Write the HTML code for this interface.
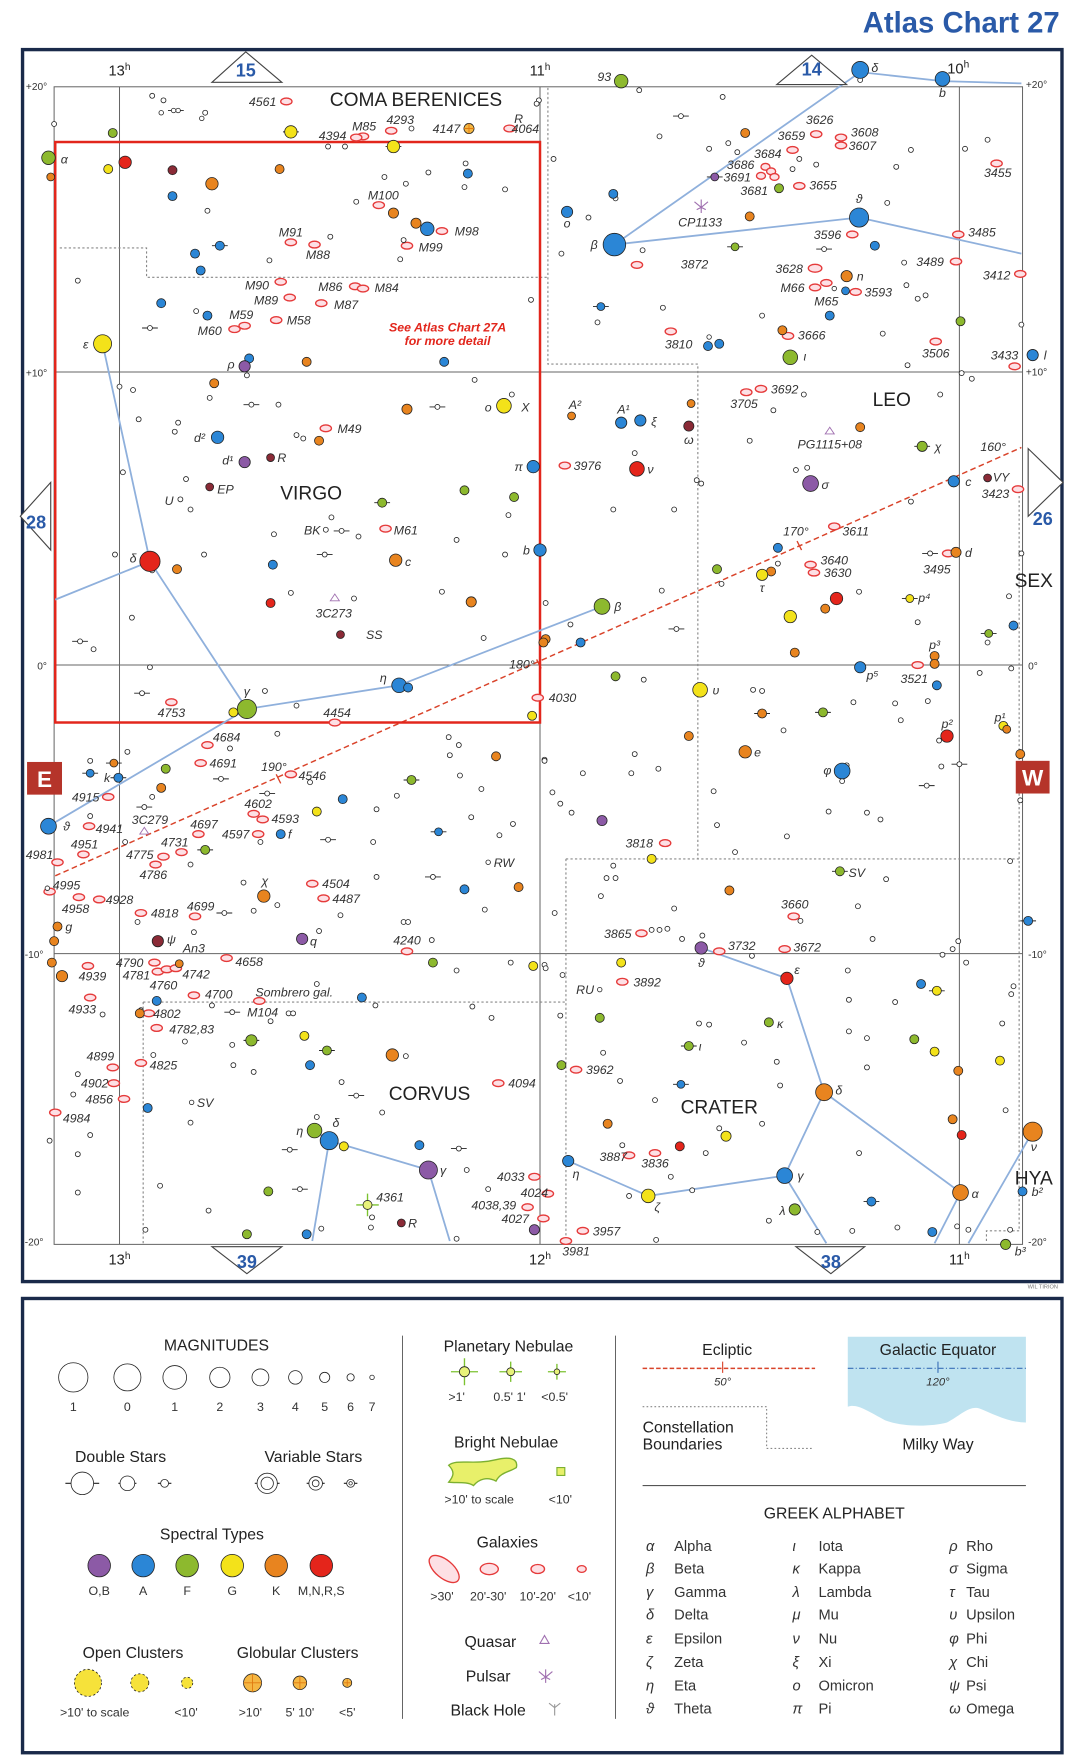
<!DOCTYPE html>
<html><head><meta charset="utf-8"><style>
html,body{margin:0;padding:0;background:#fff}
svg{display:block}
text{font-family:"Liberation Sans",sans-serif;fill:#333}
.l{font-size:11px;font-style:italic;text-anchor:middle}
.c{font-size:17px;text-anchor:middle;fill:#222}
.ax{font-size:13px;text-anchor:middle;fill:#222}
.dg{font-size:9px;fill:#333}
circle{stroke:#222;stroke-width:.7}
.w{fill:#fff}.b{fill:#2b86d6}.o{fill:#e8841f}.g{fill:#8db92e}.y{fill:#f3e21a}.r{fill:#e4251b}.p{fill:#8c5aa6}.d{fill:#8a2a36}
.gx{fill:#fde0e5;stroke:#e53a3a;stroke-width:1.2}
.cl{stroke:#8fb0dc;stroke-width:1.6;fill:none}
.bd{stroke:#888;stroke-width:1;stroke-dasharray:2 2;fill:none}
.gr{stroke:#666;stroke-width:.9;fill:none}
.bar{stroke:#222;stroke-width:.8}
.lg{font-size:14px;text-anchor:middle;fill:#222}
.ls{font-size:11px;text-anchor:middle;fill:#222}
.gk{font-size:13px;fill:#222}
.gs{font-size:13px;font-style:italic;fill:#222}
</style></head><body>
<svg width="1071" height="1764" viewBox="0 0 950 1565" preserveAspectRatio="none" xmlns="http://www.w3.org/2000/svg">
<rect x="0" y="0" width="950" height="1565" fill="#fff"/>
<text x="940" y="29" style="font-size:26px;font-weight:bold;fill:#2a5aa8;text-anchor:end">Atlas Chart 27</text>
<!-- frame -->
<rect x="20" y="44" width="922" height="1093" fill="none" stroke="#1a2a4a" stroke-width="3"/>
<rect x="48" y="77" width="859" height="1027" class="gr"/>
<path class="gr" d="M48 330H907M48 590H907M48 846H907M106 77V1104M479 77V1104M851 77V1104"/>
<!-- boundaries -->
<path class="bd" d="M53 220H130V246H487M486 78V323H619V762M502 762H904M502 762V1103M127 889H502M127 889V1103M904 440V1092H875V1103"/>
<!-- ecliptic -->
<path d="M49 777L906 397" stroke="#d9432a" stroke-width="1.3" stroke-dasharray="5 3" fill="none"/>
<path d="M245 687l4 8M476 585l4 8M707 480l4 8" stroke="#d9432a" stroke-width="1.2"/>
<text class="l" x="243" y="684">190°</text><text class="l" x="463" y="593">180°</text><text class="l" x="706" y="475">170°</text><text class="l" x="881" y="400">160°</text>
<!-- red box -->
<rect x="49" y="126" width="430" height="515" fill="none" stroke="#e2261c" stroke-width="2.2"/>
<!-- constellation lines -->
<path class="cl" d="M91 305L133 498L219 629L354 608L534 538M133 498L49 532M219 629L43 733M545 217L763 64L836 72L906 74M545 217L762 193L906 225M622 841L698 868L731 969L696 1043L575 1061L504 1030M731 969L852 1058L829 1103M696 1043L733 1103M916 1004L859 1103M292 1012L380 1038L399 1101M292 1012L277 1101M279 1003L292 1012"/>
<!-- nav triangles -->
<g fill="#fff" stroke="#444" stroke-width="1">
<path d="M188 73L218 46L250 73Z"/><path d="M689 75L720 49L751 75Z"/><path d="M45 428L18 458L45 488Z"/><path d="M912 398L943 428L912 458Z"/><path d="M188 1106L250 1106L219 1130Z"/><path d="M706 1106L767 1106L737 1130Z"/>
</g>
<g style="font-size:16px;font-weight:bold;fill:#2a5aa8;text-anchor:middle">
<text x="218" y="68" style="fill:#2a5aa8">15</text><text x="720" y="67" style="fill:#2a5aa8">14</text><text x="32" y="469" style="fill:#2a5aa8">28</text><text x="925" y="466" style="fill:#2a5aa8">26</text><text x="219" y="1125" style="fill:#2a5aa8">39</text><text x="737" y="1125" style="fill:#2a5aa8">38</text>
</g>
<rect x="24" y="676" width="31" height="29" fill="#b5342a"/><text x="39.5" y="698" style="font-size:20px;font-weight:bold;fill:#fff;text-anchor:middle">E</text>
<rect x="901" y="675" width="30" height="29" fill="#b5342a"/><text x="916" y="697" style="font-size:20px;font-weight:bold;fill:#fff;text-anchor:middle">W</text>
<!-- axis labels -->
<text class="ax" x="106" y="67">13<tspan font-size="9" dy="-5">h</tspan></text>
<text class="ax" x="479" y="67">11<tspan font-size="9" dy="-5">h</tspan></text>
<text class="ax" x="850" y="65">10<tspan font-size="9" dy="-5">h</tspan></text>
<text class="ax" x="106" y="1122">13<tspan font-size="9" dy="-5">h</tspan></text>
<text class="ax" x="479" y="1122">12<tspan font-size="9" dy="-5">h</tspan></text>
<text class="ax" x="851" y="1122">11<tspan font-size="9" dy="-5">h</tspan></text>
<text class="dg" x="23" y="80">+20°</text><text class="dg" x="23" y="334">+10°</text><text class="dg" x="33" y="594">0°</text><text class="dg" x="22" y="850">-10°</text><text class="dg" x="22" y="1105">-20°</text>
<text class="dg" x="910" y="78">+20°</text><text class="dg" x="910" y="333">+10°</text><text class="dg" x="912" y="594">0°</text><text class="dg" x="912" y="850">-10°</text><text class="dg" x="912" y="1105">-20°</text>
<text x="925" y="1143" style="font-size:5px;fill:#777;text-anchor:middle">WIL TIRION</text>
<!-- constellation names -->
<text class="c" x="369" y="94">COMA BERENICES</text>
<text class="c" x="276" y="443">VIRGO</text>
<text class="c" x="791" y="360">LEO</text>
<text class="c" x="381" y="976">CORVUS</text>
<text class="c" x="638" y="988">CRATER</text>
<text class="c" x="917" y="521">SEX</text>
<text class="c" x="917" y="1051">HYA</text>
<text x="397" y="294" style="font-size:11px;font-weight:bold;font-style:italic;fill:#e2261c;text-anchor:middle">See Atlas Chart 27A</text>
<text x="397" y="306" style="font-size:11px;font-weight:bold;font-style:italic;fill:#e2261c;text-anchor:middle">for more detail</text>
<!-- bars -->
<path class="bar" d="M251 117h14M342 130h14M149 98h14M188 218h14M126 291h14M216 359h14M381 361h14M332 446h14M296 471h14M281 492h14M64 569h14M119 615h14M597 103h14M627 157h14M645 219h14M724 221h14M526 272h14M811 396h14M818 491h14M800 531h14M870 562h14M593 558h14M94 677h14M73 686h14M98 690h14M121 716h14M230 704h14M189 691h14M175 754h14M358 692h14M382 738h14M284 745h14M377 778h14M192 810h14M199 898h14M216 923h14M283 932h14M309 972h14M250 1020h14M400 1019h14M259 1055h14M669 633h14M723 632h14M844 678h14M815 697h14M738 773h14M905 817h14M824 879h14M604 928h14M597 962h14M766 1066h14"/>
<!-- galaxies -->
<g class="gx">
<ellipse cx="254" cy="90" rx="5" ry="3"/><ellipse cx="347" cy="116" rx="5" ry="3"/><ellipse cx="322" cy="121" rx="5" ry="3"/><ellipse cx="316" cy="122" rx="5" ry="3"/><ellipse cx="452" cy="114" rx="5" ry="3"/>
<ellipse cx="336" cy="182" rx="5" ry="3"/><ellipse cx="392" cy="205" rx="5" ry="3"/><ellipse cx="361" cy="218" rx="5" ry="3"/><ellipse cx="258" cy="215" rx="5" ry="3"/><ellipse cx="279" cy="217" rx="5" ry="3"/>
<ellipse cx="249" cy="250" rx="5" ry="3"/><ellipse cx="257" cy="264" rx="5" ry="3"/><ellipse cx="315" cy="254" rx="5" ry="3"/><ellipse cx="322" cy="256" rx="5" ry="3"/><ellipse cx="285" cy="269" rx="5" ry="3"/>
<ellipse cx="217" cy="289" rx="5" ry="3"/><ellipse cx="208" cy="292" rx="5" ry="3"/><ellipse cx="245" cy="284" rx="5" ry="3"/><ellipse cx="289" cy="380" rx="5" ry="3"/><ellipse cx="342" cy="469" rx="5" ry="3"/>
<ellipse cx="724" cy="119" rx="5" ry="3"/><ellipse cx="703" cy="133" rx="5" ry="3"/><ellipse cx="746" cy="122" rx="5" ry="3"/><ellipse cx="746" cy="129" rx="5" ry="3"/><ellipse cx="679" cy="148" rx="4" ry="3"/><ellipse cx="684" cy="152" rx="4" ry="3"/><ellipse cx="675" cy="156" rx="4" ry="3"/><ellipse cx="687" cy="157" rx="4" ry="3"/>
<ellipse cx="709" cy="165" rx="5" ry="3"/><ellipse cx="884" cy="145" rx="5" ry="3"/><ellipse cx="756" cy="208" rx="5" ry="3"/><ellipse cx="850" cy="208" rx="5" ry="3"/><ellipse cx="565" cy="235" rx="5" ry="3"/><ellipse cx="848" cy="232" rx="5" ry="3"/><ellipse cx="905" cy="243" rx="5" ry="3"/>
<ellipse cx="723" cy="238" rx="6" ry="3.5"/><ellipse cx="723" cy="255" rx="5" ry="3"/><ellipse cx="733" cy="251" rx="5" ry="3"/><ellipse cx="759" cy="259" rx="5" ry="3"/><ellipse cx="595" cy="294" rx="5" ry="3"/><ellipse cx="699" cy="298" rx="5" ry="3"/><ellipse cx="830" cy="303" rx="5" ry="3"/><ellipse cx="900" cy="325" rx="5" ry="3"/>
<ellipse cx="675" cy="345" rx="5" ry="3"/><ellipse cx="662" cy="348" rx="5" ry="3"/><ellipse cx="501" cy="413" rx="5" ry="3"/><ellipse cx="903" cy="434" rx="5" ry="3"/><ellipse cx="740" cy="467" rx="5" ry="3"/><ellipse cx="719" cy="501" rx="5" ry="3"/><ellipse cx="722" cy="508" rx="5" ry="3"/><ellipse cx="841" cy="491" rx="5" ry="3"/><ellipse cx="814" cy="590" rx="5" ry="3"/>
<ellipse cx="152" cy="623" rx="5" ry="3"/><ellipse cx="297" cy="641" rx="5" ry="3"/><ellipse cx="477" cy="619" rx="5" ry="3"/><ellipse cx="184" cy="661" rx="5" ry="3"/><ellipse cx="178" cy="677" rx="5" ry="3"/><ellipse cx="258" cy="687" rx="5" ry="3"/><ellipse cx="96" cy="707" rx="5" ry="3"/><ellipse cx="79" cy="733" rx="5" ry="3"/>
<ellipse cx="74" cy="758" rx="5" ry="3"/><ellipse cx="51" cy="765" rx="5" ry="3"/><ellipse cx="145" cy="760" rx="5" ry="3"/><ellipse cx="138" cy="767" rx="5" ry="3"/><ellipse cx="161" cy="756" rx="5" ry="3"/><ellipse cx="176" cy="740" rx="5" ry="3"/><ellipse cx="225" cy="722" rx="5" ry="3"/><ellipse cx="233" cy="727" rx="5" ry="3"/><ellipse cx="229" cy="740" rx="5" ry="3"/>
<ellipse cx="44" cy="791" rx="5" ry="3"/><ellipse cx="70" cy="796" rx="5" ry="3"/><ellipse cx="88" cy="798" rx="5" ry="3"/><ellipse cx="125" cy="810" rx="5" ry="3"/><ellipse cx="173" cy="813" rx="5" ry="3"/><ellipse cx="277" cy="784" rx="5" ry="3"/><ellipse cx="287" cy="797" rx="5" ry="3"/><ellipse cx="361" cy="844" rx="5" ry="3"/>
<ellipse cx="78" cy="857" rx="5" ry="3"/><ellipse cx="137" cy="854" rx="5" ry="3"/><ellipse cx="140" cy="862" rx="5" ry="3"/><ellipse cx="148" cy="860" rx="5" ry="3"/><ellipse cx="156" cy="859" rx="5" ry="3"/><ellipse cx="201" cy="850" rx="5" ry="3"/><ellipse cx="172" cy="883" rx="5" ry="3"/><ellipse cx="230" cy="888" rx="5" ry="3"/><ellipse cx="80" cy="885" rx="5" ry="3"/>
<ellipse cx="132" cy="899" rx="5" ry="3"/><ellipse cx="139" cy="912" rx="5" ry="3"/><ellipse cx="100" cy="947" rx="5" ry="3"/><ellipse cx="125" cy="943" rx="5" ry="3"/><ellipse cx="101" cy="961" rx="5" ry="3"/><ellipse cx="110" cy="975" rx="5" ry="3"/><ellipse cx="49" cy="987" rx="5" ry="3"/><ellipse cx="442" cy="961" rx="5" ry="3"/>
<ellipse cx="474" cy="1044" rx="5" ry="3"/><ellipse cx="486" cy="1059" rx="5" ry="3"/><ellipse cx="468" cy="1071" rx="5" ry="3"/><ellipse cx="482" cy="1081" rx="5" ry="3"/><ellipse cx="590" cy="748" rx="5" ry="3"/><ellipse cx="704" cy="813" rx="5" ry="3"/><ellipse cx="569" cy="828" rx="5" ry="3"/><ellipse cx="638" cy="844" rx="5" ry="3"/><ellipse cx="696" cy="842" rx="5" ry="3"/>
<ellipse cx="552" cy="871" rx="5" ry="3"/><ellipse cx="511" cy="949" rx="5" ry="3"/><ellipse cx="558" cy="1025" rx="5" ry="3"/><ellipse cx="581" cy="1023" rx="5" ry="3"/><ellipse cx="517" cy="1092" rx="5" ry="3"/><ellipse cx="502" cy="1101" rx="5" ry="3"/>
</g>
<!-- globular -->
<circle cx="416" cy="114" r="4.5" fill="#f5b642" stroke="#e07a10"/><path d="M411.5 114h9M416 109.5v9" stroke="#e07a10" stroke-width=".8"/>
<!-- quasars / pulsar / PN -->
<path d="M297 527l-4 6h8z" fill="none" stroke="#a070b0" stroke-width=".8"/>
<path d="M128 734l-4 6h8z" fill="none" stroke="#a070b0" stroke-width=".8"/>
<path d="M736 379l-4 6h8z" fill="none" stroke="#a070b0" stroke-width=".8"/>
<path d="M622 177v12M616 179l6 5l6-5M618 186l4-2l4 2" fill="none" stroke="#a070b0" stroke-width="1"/>
<path d="M316 1069h20M326 1059v20" stroke="#7cc230" stroke-width="1.2"/><circle cx="326" cy="1069" r="4" fill="#e8f27a" stroke="#7cc230"/>
<!-- white stars -->
<g class="w">
<circle cx="135" cy="85" r="2.2"/><circle cx="145" cy="89" r="2.2"/><circle cx="143" cy="100" r="2"/><circle cx="154" cy="98" r="2"/><circle cx="158" cy="98" r="2"/><circle cx="182" cy="100" r="2.2"/><circle cx="179" cy="105" r="2"/><circle cx="48" cy="110" r="2.2"/><circle cx="291" cy="130" r="2.2"/><circle cx="306" cy="130" r="2.2"/><circle cx="365" cy="114" r="2.2"/><circle cx="478" cy="89" r="2.2"/>
<circle cx="184" cy="187" r="2.2"/><circle cx="341" cy="157" r="2.2"/><circle cx="360" cy="163" r="2.2"/><circle cx="380" cy="153" r="2.2"/><circle cx="413" cy="145" r="2.2"/><circle cx="412" cy="166" r="2.2"/><circle cx="448" cy="168" r="2.2"/><circle cx="316" cy="179" r="2.2"/><circle cx="358" cy="213" r="2.2"/><circle cx="293" cy="210" r="2.2"/><circle cx="355" cy="230" r="2.2"/><circle cx="239" cy="231" r="2.2"/>
<circle cx="174" cy="276" r="2.2"/><circle cx="69" cy="249" r="2.2"/><circle cx="133" cy="291" r="2.2"/><circle cx="471" cy="266" r="2.2"/><circle cx="219" cy="333" r="2.2"/><circle cx="106" cy="343" r="2.2"/><circle cx="118" cy="346" r="2.2"/><circle cx="186" cy="353" r="2.2"/><circle cx="223" cy="359" r="2.2"/><circle cx="247" cy="359" r="2.2"/><circle cx="388" cy="361" r="2.2"/><circle cx="421" cy="337" r="2.2"/><circle cx="454" cy="350" r="2.2"/>
<circle cx="123" cy="372" r="2.2"/><circle cx="158" cy="375" r="2.2"/><circle cx="155" cy="383" r="2.2"/><circle cx="263" cy="386" r="2.2"/><circle cx="269" cy="389" r="2.2"/><circle cx="109" cy="419" r="2.2"/><circle cx="165" cy="425" r="2.2"/><circle cx="160" cy="443" r="2.2"/><circle cx="169" cy="452" r="2.2"/><circle cx="451" cy="457" r="2.2"/><circle cx="294" cy="459" r="2.2"/><circle cx="289" cy="470" r="2.2"/><circle cx="303" cy="471" r="2.2"/><circle cx="318" cy="476" r="2.2"/>
<circle cx="243" cy="474" r="2.2"/><circle cx="405" cy="479" r="2.2"/><circle cx="448" cy="492" r="2.2"/><circle cx="102" cy="492" r="2.2"/><circle cx="181" cy="492" r="2.2"/><circle cx="135" cy="506" r="2.2"/><circle cx="288" cy="492" r="2.2"/><circle cx="258" cy="526" r="2.2"/><circle cx="314" cy="531" r="2.2"/><circle cx="392" cy="525" r="2.2"/><circle cx="117" cy="548" r="2.2"/><circle cx="71" cy="569" r="2.2"/><circle cx="83" cy="576" r="2.2"/><circle cx="133" cy="592" r="2.2"/><circle cx="429" cy="566" r="2.2"/><circle cx="484" cy="535" r="2.2"/>
<circle cx="567" cy="80" r="2.2"/><circle cx="641" cy="86" r="2.2"/><circle cx="476" cy="92" r="2.2"/><circle cx="604" cy="103" r="2.2"/><circle cx="585" cy="121" r="2.2"/><circle cx="629" cy="132" r="2.2"/><circle cx="646" cy="127" r="2.2"/><circle cx="654" cy="135" r="2.2"/><circle cx="491" cy="141" r="2.2"/><circle cx="709" cy="141" r="2.2"/><circle cx="703" cy="150" r="2.2"/><circle cx="724" cy="146" r="2.2"/><circle cx="808" cy="133" r="2.2"/><circle cx="795" cy="148" r="2.2"/><circle cx="856" cy="132" r="2.2"/><circle cx="876" cy="124" r="2.2"/><circle cx="787" cy="180" r="2.2"/><circle cx="522" cy="193" r="2.2"/><circle cx="498" cy="225" r="2.2"/><circle cx="570" cy="222" r="2.2"/><circle cx="731" cy="221" r="2.2"/><circle cx="802" cy="233" r="2.2"/><circle cx="804" cy="253" r="2.2"/><circle cx="814" cy="265" r="2.2"/><circle cx="821" cy="262" r="2.2"/><circle cx="588" cy="273" r="2.2"/><circle cx="530" cy="286" r="2.2"/><circle cx="676" cy="280" r="2.2"/><circle cx="783" cy="296" r="2.2"/><circle cx="906" cy="288" r="2.2"/><circle cx="805" cy="324" r="2.2"/><circle cx="853" cy="331" r="2.2"/><circle cx="862" cy="336" r="2.2"/><circle cx="546" cy="176" r="2.2"/><circle cx="763" cy="71" r="2.2"/><circle cx="740" cy="256" r="2"/><circle cx="629" cy="299" r="2"/><circle cx="548" cy="219" r="2"/>
<circle cx="713" cy="350" r="2.2"/><circle cx="686" cy="364" r="2.2"/><circle cx="834" cy="350" r="2.2"/><circle cx="563" cy="402" r="2.2"/><circle cx="665" cy="391" r="2.2"/><circle cx="618" cy="426" r="2.2"/><circle cx="622" cy="429" r="2.2"/><circle cx="706" cy="417" r="2.2"/><circle cx="716" cy="415" r="2.2"/><circle cx="808" cy="445" r="2.2"/><circle cx="544" cy="452" r="2.2"/><circle cx="598" cy="452" r="2.2"/><circle cx="690" cy="500" r="2.2"/><circle cx="825" cy="491" r="2.2"/><circle cx="640" cy="518" r="2.2"/><circle cx="587" cy="524" r="2.2"/><circle cx="762" cy="525" r="2.2"/><circle cx="814" cy="552" r="2.2"/><circle cx="895" cy="529" r="2.2"/><circle cx="906" cy="491" r="2.2"/><circle cx="876" cy="570" r="2.2"/><circle cx="506" cy="554" r="2.2"/><circle cx="600" cy="558" r="2.2"/>
<circle cx="126" cy="615" r="2.2"/><circle cx="235" cy="613" r="2.2"/><circle cx="263" cy="626" r="2.2"/><circle cx="246" cy="651" r="2.2"/><circle cx="204" cy="664" r="2.2"/><circle cx="113" cy="667" r="2.2"/><circle cx="80" cy="675" r="2.2"/><circle cx="135" cy="707" r="2.2"/><circle cx="128" cy="716" r="2.2"/><circle cx="80" cy="724" r="2.2"/><circle cx="111" cy="747" r="2.2"/><circle cx="169" cy="767" r="2.2"/><circle cx="196" cy="691" r="2.2"/><circle cx="275" cy="694" r="2.2"/><circle cx="237" cy="704" r="2.2"/><circle cx="231" cy="747" r="2.2"/><circle cx="334" cy="718" r="2.2"/><circle cx="352" cy="706" r="2.2"/>
<circle cx="398" cy="654" r="2.2"/><circle cx="407" cy="661" r="2.2"/><circle cx="399" cy="670" r="2.2"/><circle cx="408" cy="688" r="2.2"/><circle cx="427" cy="700" r="2.2"/><circle cx="483" cy="674" r="2.2"/><circle cx="418" cy="725" r="2.2"/><circle cx="455" cy="731" r="2.2"/><circle cx="443" cy="741" r="2.2"/><circle cx="291" cy="745" r="2.2"/><circle cx="331" cy="747" r="2.2"/><circle cx="433" cy="765" r="2"/><circle cx="334" cy="778" r="2.2"/><circle cx="384" cy="778" r="2.2"/><circle cx="430" cy="807" r="2.2"/><circle cx="42" cy="788" r="2"/>
<circle cx="122" cy="818" r="2.2"/><circle cx="199" cy="810" r="2.2"/><circle cx="216" cy="783" r="2.2"/><circle cx="225" cy="808" r="2.2"/><circle cx="246" cy="803" r="2.2"/><circle cx="302" cy="812" r="2.2"/><circle cx="358" cy="818" r="2.2"/><circle cx="362" cy="818" r="2.2"/><circle cx="172" cy="827" r="2.2"/><circle cx="283" cy="826" r="2.2"/><circle cx="383" cy="834" r="2.2"/><circle cx="405" cy="861" r="2.2"/><circle cx="453" cy="854" r="2.2"/><circle cx="483" cy="856" r="2.2"/>
<circle cx="281" cy="873" r="2.2"/><circle cx="256" cy="899" r="2.2"/><circle cx="260" cy="899" r="2.2"/><circle cx="91" cy="900" r="2.2"/><circle cx="125" cy="896" r="2"/><circle cx="188" cy="892" r="2.2"/><circle cx="206" cy="898" r="2.2"/><circle cx="240" cy="906" r="2.2"/><circle cx="333" cy="892" r="2.2"/><circle cx="419" cy="893" r="2.2"/><circle cx="436" cy="903" r="2.2"/><circle cx="164" cy="924" r="2.2"/><circle cx="206" cy="927" r="2.2"/><circle cx="360" cy="937" r="2.2"/><circle cx="136" cy="936" r="2.2"/><circle cx="207" cy="945" r="2.2"/><circle cx="225" cy="951" r="2.2"/><circle cx="69" cy="953" r="2.2"/><circle cx="65" cy="971" r="2.2"/><circle cx="170" cy="978" r="2"/>
<circle cx="303" cy="960" r="2.2"/><circle cx="316" cy="972" r="2.2"/><circle cx="339" cy="987" r="2.2"/><circle cx="169" cy="996" r="2.2"/><circle cx="44" cy="1012" r="2.2"/><circle cx="80" cy="1007" r="2.2"/><circle cx="69" cy="1024" r="2.2"/><circle cx="281" cy="991" r="2.2"/><circle cx="257" cy="1020" r="2.2"/><circle cx="407" cy="1019" r="2.2"/><circle cx="414" cy="1038" r="2.2"/><circle cx="433" cy="1055" r="2.2"/><circle cx="266" cy="1055" r="2.2"/><circle cx="142" cy="1052" r="2.2"/><circle cx="69" cy="1058" r="2.2"/><circle cx="185" cy="1074" r="2.2"/><circle cx="330" cy="1080" r="2.2"/><circle cx="329" cy="1089" r="2.2"/><circle cx="129" cy="1091" r="2.2"/><circle cx="285" cy="1090" r="2.2"/><circle cx="405" cy="1099" r="2.2"/>
<circle cx="571" cy="603" r="2.2"/><circle cx="668" cy="612" r="2.2"/><circle cx="676" cy="613" r="2.2"/><circle cx="869" cy="597" r="2.2"/><circle cx="897" cy="593" r="2.2"/><circle cx="757" cy="623" r="2.2"/><circle cx="794" cy="624" r="2.2"/><circle cx="823" cy="622" r="2.2"/><circle cx="799" cy="639" r="2.2"/><circle cx="695" cy="648" r="2.2"/><circle cx="833" cy="657" r="2.2"/><circle cx="835" cy="680" r="2.2"/><circle cx="851" cy="678" r="2.2"/><circle cx="822" cy="697" r="2.2"/><circle cx="747" cy="693" r="2.2"/><circle cx="751" cy="679" r="2.2"/>
<circle cx="483" cy="675" r="2.2"/><circle cx="563" cy="669" r="2.2"/><circle cx="517" cy="686" r="2.2"/><circle cx="560" cy="686" r="2.2"/><circle cx="584" cy="682" r="2.2"/><circle cx="490" cy="703" r="2.2"/><circle cx="497" cy="713" r="2.2"/><circle cx="507" cy="721" r="2.2"/><circle cx="633" cy="702" r="2.2"/><circle cx="735" cy="720" r="2.2"/><circle cx="769" cy="721" r="2.2"/><circle cx="781" cy="727" r="2.2"/><circle cx="636" cy="732" r="2.2"/><circle cx="698" cy="742" r="2.2"/><circle cx="652" cy="756" r="2.2"/><circle cx="905" cy="710" r="2.2"/>
<circle cx="896" cy="764" r="2.2"/><circle cx="544" cy="768" r="2.2"/><circle cx="538" cy="779" r="2.2"/><circle cx="546" cy="779" r="2.2"/><circle cx="786" cy="780" r="2.2"/><circle cx="533" cy="795" r="2.2"/><circle cx="492" cy="810" r="2.2"/><circle cx="598" cy="806" r="2.2"/><circle cx="761" cy="804" r="2.2"/><circle cx="710" cy="817" r="2.2"/><circle cx="578" cy="825" r="2.2"/><circle cx="585" cy="825" r="2.2"/><circle cx="592" cy="824" r="2.2"/><circle cx="605" cy="833" r="2.2"/><circle cx="623" cy="830" r="2.2"/><circle cx="774" cy="833" r="2.2"/><circle cx="667" cy="848" r="2.2"/><circle cx="850" cy="835" r="2.2"/><circle cx="845" cy="842" r="2.2"/><circle cx="836" cy="847" r="2.2"/><circle cx="857" cy="854" r="2.2"/>
<circle cx="484" cy="859" r="2.2"/><circle cx="499" cy="865" r="2.2"/><circle cx="752" cy="861" r="2.2"/><circle cx="899" cy="875" r="2.2"/><circle cx="897" cy="882" r="2.2"/><circle cx="532" cy="878" r="2"/><circle cx="753" cy="887" r="2.2"/><circle cx="794" cy="889" r="2.2"/><circle cx="497" cy="901" r="2.2"/><circle cx="620" cy="908" r="2.2"/><circle cx="629" cy="909" r="2.2"/><circle cx="660" cy="925" r="2.2"/><circle cx="753" cy="915" r="2.2"/><circle cx="769" cy="921" r="2.2"/><circle cx="889" cy="908" r="2.2"/><circle cx="535" cy="934" r="2.2"/><circle cx="550" cy="959" r="2.2"/><circle cx="689" cy="942" r="2.2"/><circle cx="692" cy="963" r="2.2"/><circle cx="769" cy="947" r="2.2"/>
<circle cx="581" cy="976" r="2.2"/><circle cx="638" cy="1001" r="2.2"/><circle cx="676" cy="997" r="2.2"/><circle cx="892" cy="985" r="2.2"/><circle cx="552" cy="1016" r="2.2"/><circle cx="626" cy="1023" r="2.2"/><circle cx="762" cy="1023" r="2.2"/><circle cx="595" cy="1044" r="2.2"/><circle cx="614" cy="1056" r="2.2"/><circle cx="558" cy="1061" r="2.2"/><circle cx="796" cy="1089" r="2.2"/><circle cx="756" cy="1092" r="2.2"/><circle cx="682" cy="1083" r="2.2"/><circle cx="725" cy="1093" r="2.2"/><circle cx="849" cy="1088" r="2.2"/><circle cx="859" cy="1091" r="2.2"/><circle cx="896" cy="1091" r="2.2"/><circle cx="582" cy="1100" r="2.2"/>
</g>
<!-- colored stars -->
<circle class="g" cx="43" cy="140" r="6"/><circle class="o" cx="45" cy="157" r="3.5"/><circle class="g" cx="100" cy="118" r="4"/>
<circle class="y" cx="258" cy="117" r="5.5"/><circle class="y" cx="349" cy="130" r="5.5"/>
<circle class="y" cx="96" cy="150" r="4"/><circle class="r" cx="111" cy="144" r="5.5"/><circle class="d" cx="153" cy="151" r="4"/><circle class="o" cx="188" cy="163" r="5.5"/><circle class="o" cx="248" cy="150" r="4"/><circle class="b" cx="153" cy="174" r="4"/><circle class="b" cx="415" cy="154" r="4"/>
<circle class="o" cx="349" cy="189" r="4.5"/><circle class="o" cx="369" cy="198" r="4.5"/><circle class="b" cx="379" cy="203" r="6"/>
<circle class="b" cx="173" cy="225" r="4"/><circle class="b" cx="195" cy="218" r="4"/><circle class="b" cx="178" cy="240" r="4"/><circle class="b" cx="143" cy="269" r="4"/><circle class="b" cx="184" cy="280" r="4"/>
<circle class="y" cx="91" cy="305" r="8"/><circle class="b" cx="221" cy="318" r="4"/><circle class="p" cx="217" cy="325" r="5"/><circle class="o" cx="272" cy="321" r="4"/><circle class="b" cx="394" cy="321" r="4"/><circle class="o" cx="190" cy="340" r="4"/><circle class="o" cx="361" cy="363" r="4.5"/><circle class="y" cx="447" cy="360" r="6.5"/>
<circle class="b" cx="193" cy="388" r="5.5"/><circle class="o" cx="283" cy="391" r="4"/><circle class="p" cx="217" cy="410" r="5"/><circle class="d" cx="240" cy="406" r="3.5"/><circle class="b" cx="473" cy="414" r="5.5"/><circle class="d" cx="186" cy="432" r="3.5"/>
<circle class="g" cx="339" cy="446" r="4"/><circle class="g" cx="412" cy="435" r="4"/><circle class="g" cx="456" cy="441" r="4"/><circle class="b" cx="479" cy="488" r="5.5"/>
<circle class="r" cx="133" cy="498" r="9"/><circle class="o" cx="157" cy="505" r="4"/><circle class="b" cx="242" cy="501" r="4"/><circle class="o" cx="351" cy="497" r="5.5"/><circle class="r" cx="240" cy="535" r="4"/><circle class="o" cx="418" cy="534" r="4.5"/><circle class="d" cx="302" cy="563" r="3.5"/><circle class="o" cx="484" cy="567" r="4"/>
<circle class="g" cx="551" cy="72" r="6"/><circle class="b" cx="763" cy="62" r="7.5"/><circle class="b" cx="836" cy="70" r="6.5"/>
<circle class="o" cx="661" cy="118" r="4"/><circle class="o" cx="665" cy="192" r="4"/><circle class="p" cx="634" cy="157" r="3.5"/><circle class="g" cx="691" cy="167" r="4"/>
<circle class="b" cx="503" cy="188" r="5"/><circle class="b" cx="544" cy="172" r="4"/><circle class="b" cx="545" cy="217" r="10"/><circle class="b" cx="762" cy="193" r="8.5"/><circle class="b" cx="776" cy="218" r="4"/><circle class="g" cx="652" cy="219" r="3.5"/>
<circle class="o" cx="751" cy="245" r="5"/><circle class="b" cx="750" cy="258" r="3.5"/><circle class="b" cx="533" cy="272" r="3.5"/><circle class="b" cx="736" cy="280" r="4"/><circle class="g" cx="852" cy="285" r="4"/><circle class="b" cx="628" cy="307" r="4"/><circle class="b" cx="638" cy="305" r="4"/><circle class="o" cx="694" cy="293" r="4"/>
<circle class="g" cx="701" cy="317" r="6.5"/><circle class="b" cx="916" cy="315" r="5"/>
<circle class="o" cx="507" cy="369" r="3.5"/><circle class="b" cx="551" cy="375" r="5"/><circle class="b" cx="568" cy="373" r="5"/><circle class="d" cx="611" cy="378" r="4.5"/><circle class="o" cx="613" cy="358" r="3.5"/><circle class="o" cx="763" cy="379" r="4"/><circle class="g" cx="818" cy="396" r="4.5"/>
<circle class="r" cx="565" cy="416" r="6.5"/><circle class="p" cx="719" cy="429" r="7"/><circle class="b" cx="846" cy="427" r="5"/><circle class="d" cx="876" cy="424" r="3.5"/>
<circle class="b" cx="690" cy="486" r="4"/><circle class="o" cx="848" cy="490" r="4.5"/><circle class="g" cx="636" cy="505" r="4"/><circle class="o" cx="684" cy="507" r="4"/><circle class="y" cx="676" cy="510" r="5"/><circle class="r" cx="742" cy="531" r="5.5"/><circle class="o" cx="732" cy="540" r="4"/><circle class="y" cx="701" cy="547" r="5.5"/><circle class="y" cx="807" cy="531" r="3.5"/>
<circle class="g" cx="877" cy="562" r="3.5"/><circle class="b" cx="899" cy="555" r="4"/><circle class="g" cx="534" cy="538" r="7"/><circle class="b" cx="515" cy="570" r="4"/><circle class="o" cx="482" cy="570" r="4"/><circle class="o" cx="705" cy="579" r="4"/><circle class="o" cx="829" cy="582" r="4"/>
<circle class="g" cx="219" cy="629" r="8.5"/><circle class="y" cx="207" cy="632" r="4"/><circle class="b" cx="354" cy="608" r="6.5"/><circle class="b" cx="362" cy="610" r="4"/><circle class="y" cx="472" cy="635" r="4"/>
<circle class="o" cx="101" cy="677" r="3.5"/><circle class="b" cx="80" cy="686" r="3.5"/><circle class="b" cx="105" cy="690" r="4"/><circle class="g" cx="147" cy="682" r="4"/><circle class="o" cx="143" cy="699" r="4"/><circle class="b" cx="43" cy="733" r="7"/>
<circle class="g" cx="182" cy="754" r="4"/><circle class="b" cx="249" cy="740" r="4"/><circle class="y" cx="281" cy="720" r="4"/><circle class="b" cx="304" cy="709" r="4"/><circle class="g" cx="365" cy="692" r="4"/><circle class="o" cx="440" cy="671" r="4"/><circle class="b" cx="389" cy="738" r="3.5"/><circle class="b" cx="412" cy="789" r="4"/><circle class="o" cx="460" cy="787" r="4"/>
<circle class="o" cx="234" cy="795" r="5.5"/><circle class="o" cx="51" cy="822" r="4"/><circle class="o" cx="48" cy="835" r="4"/><circle class="d" cx="140" cy="835" r="5"/><circle class="p" cx="268" cy="833" r="5"/>
<circle class="o" cx="46" cy="854" r="4"/><circle class="o" cx="55" cy="866" r="5"/><circle class="o" cx="159" cy="855" r="3.5"/><circle class="g" cx="384" cy="854" r="4"/><circle class="y" cx="473" cy="857" r="4"/>
<circle class="b" cx="139" cy="888" r="4"/><circle class="o" cx="124" cy="899" r="4"/><circle class="b" cx="321" cy="885" r="4"/><circle class="g" cx="223" cy="923" r="5"/><circle class="y" cx="270" cy="919" r="4"/><circle class="g" cx="290" cy="932" r="4"/><circle class="o" cx="348" cy="936" r="5.5"/><circle class="b" cx="275" cy="945" r="4"/><circle class="b" cx="131" cy="983" r="4"/>
<circle class="g" cx="279" cy="1003" r="6.5"/><circle class="b" cx="292" cy="1012" r="8"/><circle class="y" cx="305" cy="1017" r="4"/><circle class="b" cx="372" cy="1016" r="4"/><circle class="p" cx="380" cy="1038" r="8"/>
<circle class="g" cx="238" cy="1057" r="4"/><circle class="d" cx="356" cy="1085" r="3.5"/><circle class="g" cx="219" cy="1095" r="4"/><circle class="b" cx="272" cy="1095" r="4"/><circle class="p" cx="474" cy="1091" r="4.5"/>
<circle class="g" cx="546" cy="600" r="4"/><circle class="y" cx="621" cy="612" r="6.5"/><circle class="b" cx="763" cy="592" r="5"/><circle class="b" cx="831" cy="608" r="4"/><circle class="o" cx="829" cy="589" r="4"/>
<circle class="o" cx="676" cy="633" r="4"/><circle class="g" cx="730" cy="632" r="4"/><circle class="o" cx="611" cy="653" r="4"/><circle class="o" cx="661" cy="667" r="5.5"/><circle class="r" cx="840" cy="653" r="5.5"/><circle class="y" cx="890" cy="644" r="4"/><circle class="o" cx="893" cy="647" r="3.5"/><circle class="o" cx="905" cy="669" r="4"/>
<circle class="b" cx="747" cy="684" r="7"/><circle class="p" cx="534" cy="728" r="4.5"/><circle class="y" cx="578" cy="762" r="4"/><circle class="g" cx="745" cy="773" r="4"/><circle class="o" cx="647" cy="790" r="4"/><circle class="b" cx="912" cy="817" r="4"/>
<circle class="p" cx="622" cy="841" r="5.5"/><circle class="y" cx="551" cy="854" r="4"/><circle class="r" cx="698" cy="868" r="5.5"/><circle class="b" cx="817" cy="873" r="4"/><circle class="y" cx="831" cy="879" r="4"/>
<circle class="g" cx="532" cy="903" r="4"/><circle class="g" cx="682" cy="907" r="4"/><circle class="g" cx="611" cy="928" r="4"/><circle class="g" cx="811" cy="922" r="4"/><circle class="y" cx="829" cy="933" r="4"/><circle class="y" cx="887" cy="941" r="4"/><circle class="o" cx="850" cy="950" r="4"/><circle class="g" cx="498" cy="945" r="4"/><circle class="b" cx="604" cy="962" r="3.5"/>
<circle class="o" cx="731" cy="969" r="7.5"/><circle class="o" cx="539" cy="997" r="4"/><circle class="y" cx="644" cy="1008" r="4.5"/><circle class="o" cx="845" cy="993" r="4"/><circle class="r" cx="853" cy="1007" r="4"/><circle class="o" cx="916" cy="1004" r="8.5"/><circle class="r" cx="603" cy="1017" r="4"/>
<circle class="b" cx="504" cy="1030" r="5"/><circle class="y" cx="575" cy="1061" r="6"/><circle class="b" cx="696" cy="1043" r="7"/><circle class="g" cx="705" cy="1073" r="5"/><circle class="b" cx="773" cy="1066" r="4"/><circle class="b" cx="827" cy="1093" r="4"/><circle class="o" cx="852" cy="1058" r="7"/><circle class="b" cx="907" cy="1057" r="4"/><circle class="g" cx="892" cy="1104" r="4.5"/>
<!-- labels -->
<g class="l">
<text x="233" y="94">4561</text><text x="295" y="124">4394</text><text x="323" y="116">M85</text><text x="355" y="110">4293</text><text x="396" y="118">4147</text><text x="466" y="118">4064</text><text x="460" y="109">R</text>
<text x="57" y="145">α</text><text x="340" y="177">M100</text><text x="414" y="209">M98</text><text x="382" y="223">M99</text><text x="258" y="210">M91</text><text x="282" y="230">M88</text>
<text x="228" y="257">M90</text><text x="236" y="270">M89</text><text x="293" y="258">M86</text><text x="343" y="259">M84</text><text x="307" y="274">M87</text><text x="214" y="283">M59</text><text x="186" y="297">M60</text><text x="265" y="288">M58</text>
<text x="76" y="309">ε</text><text x="205" y="327">ρ</text><text x="433" y="365">o</text><text x="466" y="365">X</text><text x="177" y="392">d²</text><text x="310" y="384">M49</text><text x="202" y="412">d¹</text><text x="250" y="410">R</text>
<text x="460" y="418">π</text><text x="200" y="438">EP</text><text x="150" y="448">U</text><text x="277" y="474">BK</text><text x="360" y="474">M61</text><text x="467" y="492">b</text><text x="118" y="499">δ</text><text x="362" y="502">c</text><text x="296" y="548">3C273</text><text x="332" y="567">SS</text>
<text x="536" y="72">93</text><text x="776" y="64">δ</text><text x="836" y="86">b</text><text x="727" y="110">3626</text><text x="702" y="124">3659</text><text x="767" y="121">3608</text><text x="765" y="133">3607</text><text x="681" y="140">3684</text><text x="657" y="150">3686</text><text x="654" y="161">3691</text><text x="669" y="173">3681</text><text x="730" y="168">3655</text><text x="885" y="157">3455</text>
<text x="621" y="201">CP1133</text><text x="503" y="202">o</text><text x="527" y="221">β</text><text x="762" y="180">ϑ</text><text x="734" y="212">3596</text><text x="871" y="210">3485</text><text x="616" y="238">3872</text><text x="825" y="236">3489</text><text x="884" y="248">3412</text>
<text x="700" y="242">3628</text><text x="763" y="249">n</text><text x="703" y="259">M66</text><text x="733" y="271">M65</text><text x="779" y="263">3593</text><text x="602" y="309">3810</text><text x="720" y="301">3666</text><text x="714" y="320">ι</text><text x="830" y="317">3506</text><text x="891" y="319">3433</text><text x="927" y="319">l</text>
<text x="696" y="349">3692</text><text x="660" y="362">3705</text><text x="510" y="363">A²</text><text x="553" y="367">A¹</text><text x="580" y="378">ξ</text><text x="611" y="394">ω</text><text x="736" y="398">PG1115+08</text><text x="832" y="400">χ</text>
<text x="521" y="417">3976</text><text x="577" y="420">ν</text><text x="732" y="434">σ</text><text x="859" y="431">c</text><text x="888" y="427">VY</text><text x="883" y="442">3423</text><text x="759" y="475">3611</text><text x="740" y="501">3640</text><text x="743" y="512">3630</text>
<text x="859" y="494">d</text><text x="831" y="509">3495</text><text x="676" y="525">τ</text><text x="548" y="542">β</text><text x="820" y="534">p⁴</text><text x="829" y="576">p³</text><text x="774" y="603">p⁵</text><text x="811" y="606">3521</text>
<text x="219" y="617">γ</text><text x="340" y="605">η</text><text x="152" y="636">4753</text><text x="299" y="636">4454</text><text x="499" y="623">4030</text><text x="635" y="616">υ</text><text x="840" y="646">p²</text><text x="887" y="640">p¹</text><text x="672" y="671">e</text><text x="734" y="687">φ</text>
<text x="201" y="658">4684</text><text x="198" y="681">4691</text><text x="95" y="694">k</text><text x="76" y="711">4915</text><text x="277" y="692">4546</text><text x="229" y="717">4602</text><text x="253" y="730">4593</text><text x="209" y="744">4597</text><text x="257" y="744">f</text>
<text x="59" y="737">ϑ</text><text x="97" y="739">4941</text><text x="133" y="731">3C279</text><text x="75" y="753">4951</text><text x="35" y="762">4981</text><text x="124" y="762">4775</text><text x="136" y="780">4786</text><text x="155" y="751">4731</text><text x="181" y="735">4697</text><text x="447" y="769">RW</text>
<text x="59" y="789">4995</text><text x="67" y="810">4958</text><text x="106" y="802">4928</text><text x="146" y="814">4818</text><text x="178" y="808">4699</text><text x="235" y="785">χ</text><text x="298" y="788">4504</text><text x="307" y="801">4487</text><text x="61" y="826">g</text><text x="152" y="837">ψ</text><text x="172" y="845">An3</text><text x="278" y="839">q</text><text x="361" y="838">4240</text>
<text x="82" y="870">4939</text><text x="115" y="858">4790</text><text x="121" y="869">4781</text><text x="174" y="868">4742</text><text x="145" y="878">4760</text><text x="221" y="857">4658</text><text x="194" y="886">4700</text><text x="261" y="884">Sombrero gal.</text><text x="233" y="902">M104</text>
<text x="73" y="899">4933</text><text x="148" y="903">4802</text><text x="170" y="917">4782,83</text><text x="89" y="941">4899</text><text x="145" y="949">4825</text><text x="84" y="965">4902</text><text x="88" y="979">4856</text><text x="68" y="996">4984</text><text x="182" y="982">SV</text><text x="463" y="965">4094</text>
<text x="266" y="1007">η</text><text x="298" y="1000">δ</text><text x="393" y="1042">γ</text><text x="346" y="1066">4361</text><text x="366" y="1089">R</text><text x="453" y="1048">4033</text><text x="474" y="1062">4024</text><text x="438" y="1073">4038,39</text><text x="457" y="1085">4027</text>
<text x="567" y="752">3818</text><text x="760" y="778">SV</text><text x="705" y="806">3660</text><text x="548" y="832">3865</text><text x="658" y="843">3732</text><text x="716" y="844">3672</text><text x="622" y="858">ϑ</text><text x="707" y="864">ε</text><text x="574" y="875">3892</text><text x="519" y="882">RU</text><text x="692" y="912">κ</text><text x="621" y="932">ι</text><text x="532" y="953">3962</text><text x="744" y="971">δ</text>
<text x="917" y="1021">ν</text><text x="544" y="1030">3887</text><text x="581" y="1036">3836</text><text x="511" y="1045">η</text><text x="583" y="1075">ζ</text><text x="710" y="1047">γ</text><text x="694" y="1078">λ</text><text x="865" y="1063">α</text><text x="920" y="1061">b²</text><text x="538" y="1096">3957</text><text x="511" y="1114">3981</text><text x="905" y="1114">b³</text>
</g>
<!-- LEGEND -->
<rect x="20" y="1152" width="922" height="403" fill="none" stroke="#1a2a4a" stroke-width="3"/>
<path d="M357 1185V1525M546 1185V1525" stroke="#555" stroke-width=".8"/>
<text class="lg" x="192" y="1198">MAGNITUDES</text>
<g fill="#fff" stroke="#222" stroke-width="1">
<circle cx="65" cy="1222" r="13"/><circle cx="113" cy="1222" r="12"/><circle cx="155" cy="1222" r="10.5"/><circle cx="195" cy="1222" r="9"/><circle cx="231" cy="1222" r="7.5"/><circle cx="262" cy="1222" r="6"/><circle cx="288" cy="1222" r="4.5"/><circle cx="311" cy="1222" r="3.2"/><circle cx="330" cy="1222" r="2"/>
</g>
<g class="ls"><text x="65" y="1252">1</text><text x="113" y="1252">0</text><text x="155" y="1252">1</text><text x="195" y="1252">2</text><text x="231" y="1252">3</text><text x="262" y="1252">4</text><text x="288" y="1252">5</text><text x="311" y="1252">6</text><text x="330" y="1252">7</text></g>
<text class="lg" x="107" y="1297">Double Stars</text><text class="lg" x="278" y="1297">Variable Stars</text>
<path d="M58 1316h30M105 1316h16M140 1316h12M226 1316h22M272 1316h16M305 1316h12" stroke="#222" stroke-width="1"/>
<g fill="#fff" stroke="#222" stroke-width="1">
<circle cx="73" cy="1316" r="10"/><circle cx="113" cy="1316" r="6.5"/><circle cx="146" cy="1316" r="3.5"/><circle cx="237" cy="1316" r="9"/><circle cx="237" cy="1316" r="5.5"/><circle cx="280" cy="1316" r="6"/><circle cx="280" cy="1316" r="3"/><circle cx="311" cy="1316" r="3.5"/><circle cx="311" cy="1316" r="1.5"/>
</g>
<text class="lg" x="188" y="1366">Spectral Types</text>
<circle class="p" cx="88" cy="1389" r="10"/><circle class="b" cx="127" cy="1389" r="10"/><circle class="g" cx="166" cy="1389" r="10"/><circle class="y" cx="206" cy="1389" r="10"/><circle class="o" cx="245" cy="1389" r="10"/><circle class="r" cx="285" cy="1389" r="10"/>
<g class="ls"><text x="88" y="1415">O,B</text><text x="127" y="1415">A</text><text x="166" y="1415">F</text><text x="206" y="1415">G</text><text x="245" y="1415">K</text><text x="285" y="1415">M,N,R,S</text></g>
<text class="lg" x="118" y="1471">Open Clusters</text><text class="lg" x="264" y="1471">Globular Clusters</text>
<g fill="#f6e23a" stroke="#e0a010" stroke-width="1.2" stroke-dasharray="2 2"><circle cx="78" cy="1493" r="12"/><circle cx="124" cy="1493" r="8"/><circle cx="166" cy="1493" r="5"/></g>
<g fill="#f5b642" stroke="#e07a10" stroke-width="1"><circle cx="224" cy="1493" r="8"/><circle cx="266" cy="1493" r="6"/><circle cx="308" cy="1493" r="4"/></g>
<path d="M216 1493h16M224 1485v16M260 1493h12M266 1487v12M305 1493h6M308 1490v6" stroke="#e07a10" stroke-width=".8"/>
<g class="ls"><text x="84" y="1523">&gt;10' to scale</text><text x="165" y="1523">&lt;10'</text><text x="222" y="1523">&gt;10'</text><text x="266" y="1523">5' 10'</text><text x="308" y="1523">&lt;5'</text></g>
<text class="lg" x="451" y="1199">Planetary Nebulae</text>
<path d="M400 1217h24M412 1205v24M443 1217h20M453 1208v18M486 1217h16M494 1210v14" stroke="#7cc230" stroke-width="1.2"/>
<circle cx="412" cy="1217" r="4.5" fill="#e8f27a" stroke="#7cc230"/><circle cx="453" cy="1217" r="3.5" fill="#e8f27a" stroke="#7cc230"/><circle cx="494" cy="1217" r="2.5" fill="#e8f27a" stroke="#7cc230"/>
<g class="ls"><text x="405" y="1243">&gt;1'</text><text x="452" y="1243">0.5' 1'</text><text x="492" y="1243">&lt;0.5'</text></g>
<text class="lg" x="449" y="1284">Bright Nebulae</text>
<path d="M398 1300C405 1294 420 1300 440 1295C452 1292 460 1294 458 1302C452 1306 444 1306 440 1314C432 1310 425 1312 420 1318C414 1314 404 1316 398 1315C402 1310 404 1306 398 1300Z" fill="#e8f06a" stroke="#7cb030" stroke-width="1.2"/>
<rect x="494" y="1302" width="7" height="7" fill="#e8f06a" stroke="#7cb030"/>
<g class="ls"><text x="425" y="1334">&gt;10' to scale</text><text x="497" y="1334">&lt;10'</text></g>
<text class="lg" x="450" y="1373">Galaxies</text>
<ellipse class="gx" cx="394" cy="1392" rx="16" ry="8" transform="rotate(40 394 1392)"/><ellipse class="gx" cx="434" cy="1392" rx="8" ry="5"/><ellipse class="gx" cx="477" cy="1392" rx="6" ry="4"/><ellipse class="gx" cx="516" cy="1392" rx="4" ry="3"/>
<g class="ls"><text x="392" y="1420">&gt;30'</text><text x="433" y="1420">20'-30'</text><text x="477" y="1420">10'-20'</text><text x="514" y="1420">&lt;10'</text></g>
<text class="lg" x="435" y="1461">Quasar</text><path d="M483 1451l-4 7h8z" fill="none" stroke="#a070b0"/>
<text class="lg" x="433" y="1492">Pulsar</text><path d="M484 1481v12M478 1483l6 5l6-5M480 1490l4-2l4 2" fill="none" stroke="#a070b0"/>
<text class="lg" x="433" y="1522">Black Hole</text><path d="M492 1512v10M487 1511l5 4l5-4" fill="none" stroke="#999"/>
<text class="lg" x="645" y="1202">Ecliptic</text>
<path d="M570 1214H723" stroke="#d9432a" stroke-width="1.3" stroke-dasharray="4 2"/><path d="M641 1208v10" stroke="#d9432a"/>
<text class="l" x="641" y="1229" style="font-size:10px">50°</text>
<path d="M752 1186H910V1262C895 1262 880 1254 870 1250C860 1246 852 1256 840 1262C825 1266 800 1266 785 1260C770 1252 760 1245 752 1248Z" fill="#bfe3f0"/>
<text class="lg" x="832" y="1202">Galactic Equator</text>
<path d="M752 1214H910" stroke="#3a70b8" stroke-width="1" stroke-dasharray="5 2 1 2"/><path d="M832 1208v10" stroke="#3a70b8"/>
<text class="l" x="832" y="1229" style="font-size:10px">120°</text>
<text class="lg" x="832" y="1286">Milky Way</text>
<path d="M570 1248H680V1285H722" stroke="#888" stroke-width="1" stroke-dasharray="1.5 2" fill="none"/>
<text class="gk" x="570" y="1271" style="font-size:14px">Constellation</text><text class="gk" x="570" y="1286" style="font-size:14px">Boundaries</text>
<path d="M570 1318H910" stroke="#555" stroke-width="1"/>
<text class="lg" x="740" y="1347">GREEK ALPHABET</text>
<g class="gs"><text x="573" y="1376">α</text><text x="573" y="1396">β</text><text x="573" y="1417">γ</text><text x="573" y="1437">δ</text><text x="573" y="1458">ε</text><text x="573" y="1479">ζ</text><text x="573" y="1500">η</text><text x="573" y="1520">ϑ</text>
<text x="703" y="1376">ι</text><text x="703" y="1396">κ</text><text x="703" y="1417">λ</text><text x="703" y="1437">μ</text><text x="703" y="1458">ν</text><text x="703" y="1479">ξ</text><text x="703" y="1500">ο</text><text x="703" y="1520">π</text>
<text x="842" y="1376">ρ</text><text x="842" y="1396">σ</text><text x="842" y="1417">τ</text><text x="842" y="1437">υ</text><text x="842" y="1458">φ</text><text x="842" y="1479">χ</text><text x="842" y="1500">ψ</text><text x="842" y="1520">ω</text></g>
<g class="gk"><text x="598" y="1376">Alpha</text><text x="598" y="1396">Beta</text><text x="598" y="1417">Gamma</text><text x="598" y="1437">Delta</text><text x="598" y="1458">Epsilon</text><text x="598" y="1479">Zeta</text><text x="598" y="1500">Eta</text><text x="598" y="1520">Theta</text>
<text x="726" y="1376">Iota</text><text x="726" y="1396">Kappa</text><text x="726" y="1417">Lambda</text><text x="726" y="1437">Mu</text><text x="726" y="1458">Nu</text><text x="726" y="1479">Xi</text><text x="726" y="1500">Omicron</text><text x="726" y="1520">Pi</text>
<text x="857" y="1376">Rho</text><text x="857" y="1396">Sigma</text><text x="857" y="1417">Tau</text><text x="857" y="1437">Upsilon</text><text x="857" y="1458">Phi</text><text x="857" y="1479">Chi</text><text x="857" y="1500">Psi</text><text x="857" y="1520">Omega</text></g>
</svg>
</body></html>
